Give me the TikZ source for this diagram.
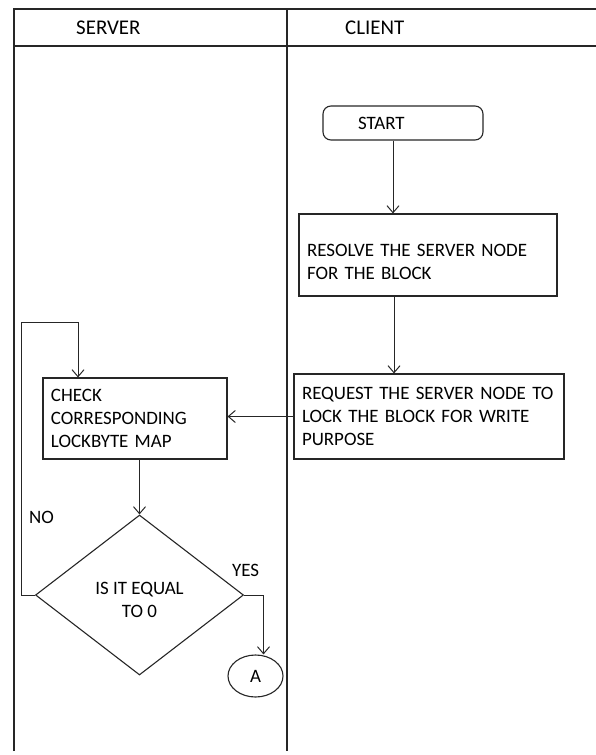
\documentclass[tikz,border=0pt]{standalone}
\usepackage{fontspec}
\setmainfont{Carlito}
\usetikzlibrary{shapes.geometric, arrows.meta, positioning, calc}

\tikzset{
  lane/.style={line width=1.3bp, black!85},
  lanetitle/.style={font=\fontsize{21}{25}\selectfont, text=black, inner sep=0pt},
  procbox/.style={draw=black!85, line width=1.1bp, text=black, align=left, inner xsep=8bp,
    font=\fontsize{19}{23.5}\selectfont},
  arr/.style={-{Straight Barb[length=7bp,width=12bp]}, line width=1bp, black!85},
  branchlbl/.style={font=\fontsize{19}{23.5}\selectfont, text=black, inner sep=0pt}
}

\begin{document}
\begin{tikzpicture}[x=1bp, y=-1bp]
    \useasboundingbox (0,0) rectangle (596,755);
    % Swimlane frame
    \draw[lane] (14,751) -- (14,9) -- (596,9);
    \draw[lane] (14,46) -- (596,46);
    \draw[lane] (287,9) -- (287,751);
    \node[lanetitle, anchor=base west] (srvtitle) at (76,35) {SERVER};
    \node[lanetitle, anchor=base west] (clititle) at (345,35) {CLIENT};
    % Client side
    \node[procbox, rounded corners=8bp, inner xsep=35bp, text width=90bp,
      minimum height=34bp] (start) at (403,123) {START};
    \node[procbox, text width=242bp, text depth=10bp, minimum height=82bp] (resolve)
      at (428,255) {RESOLVE THE SERVER NODE\\FOR THE BLOCK};
    \node[procbox, text width=254bp, minimum height=85bp] (request) at (429,416.5)
      {REQUEST THE SERVER NODE TO\\LOCK THE BLOCK FOR WRITE\\PURPOSE};
    % Server side
    \node[procbox, text width=168bp, minimum height=81bp] (check) at (135,418.5)
      {CHECK\\CORRESPONDING\\LOCKBYTE MAP};
    \node[procbox, diamond, align=center, inner sep=0pt, text height=46bp,
      minimum width=208bp, minimum height=160bp] (dec) at (139.5,595) {IS IT EQUAL\\TO 0};
    \node[procbox, ellipse, align=center, inner sep=0pt, minimum width=55bp,
      minimum height=42bp] (outA) at (255.5,676) {A};
    % Connectors
    \draw[arr] ([xshift=-10bp]start.south) -- ([xshift=-10bp]start.south |- resolve.north);
    \draw[arr] ([xshift=-34bp]resolve.south) -- ([xshift=-34bp]resolve.south |- request.north);
    \draw[arr] (request.west) -- (request.west -| check.east);
    \draw[arr] (dec.north |- check.south) -- (dec.north);
    \coordinate (looptop) at (78,322);
    \draw[arr] (dec.west) -- ++(-13,0) |- (looptop) -- (looptop |- check.north);
    \draw[arr] (dec.east) -| ([xshift=8bp]outA.north);
    % Branch labels
    \node[branchlbl, anchor=base west] (nolbl) at (29,523) {NO};
    \node[branchlbl, anchor=base west] (yeslbl) at (232,576) {YES};
\end{tikzpicture}
\end{document}
